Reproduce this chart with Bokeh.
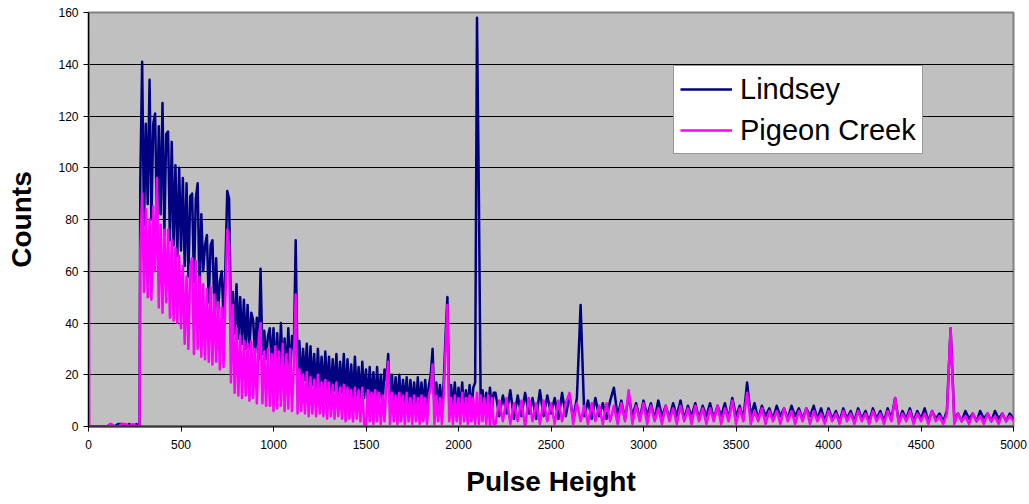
from bokeh.plotting import figure
from bokeh.models import Range1d, FixedTicker
from bokeh.embed import file_html
from bokeh.resources import INLINE

# ---- data (Pulse Height channel vs Counts) ----
# low-channel region (explicit channels)
low_channels = [0, 4, 100, 120, 140, 160, 180, 200, 220, 240, 260, 276]
lindsey_low = [0, 0, 0, 1, 0, 1, 1, 0, 1, 0, 1, 0]
pigeon_low = [165, 0, 0, 1, 0, 0, 1, 1, 0, 1, 0, 0]

# channels 280..990, step 10
seg_a_start, seg_a_step = 280, 10
lindsey_a = [95, 141, 78, 117, 86, 134, 80, 117, 121, 76,
             116, 82, 125, 74, 113, 114, 72, 110, 70, 101,
             66, 100, 68, 96, 62, 94, 58, 89, 90, 56,
             88, 94, 52, 82, 60, 70, 74, 48, 70, 72,
             46, 65, 44, 56, 60, 42, 62, 91, 88, 40,
             52, 36, 55, 34, 50, 32, 49, 30, 47, 30,
             44, 41, 28, 42, 26, 61, 28, 37, 26, 35,
             38, 24]
pigeon_a = [68, 90, 52, 84, 50, 80, 49, 85, 60, 96,
            46, 78, 44, 76, 48, 76, 42, 72, 41, 69,
            40, 66, 38, 62, 32, 58, 30, 62, 65, 28,
            64, 30, 58, 27, 55, 26, 53, 25, 54, 24,
            51, 25, 48, 22, 46, 23, 50, 76, 70, 17,
            47, 13, 38, 12, 35, 11, 33, 12, 32, 10,
            33, 11, 30, 9, 34, 40, 9, 29, 8, 30,
            8, 28]

# channels 1000..2190, step 10
seg_b_start, seg_b_step = 1000, 10
lindsey_b = [38, 20, 36, 18, 40, 22, 34, 19, 38, 20,
             35, 30, 72, 20, 33, 16, 30, 18, 32, 15,
             31, 16, 28, 14, 30, 15, 27, 13, 29, 14,
             27, 12, 26, 14, 28, 12, 25, 13, 28, 11,
             26, 12, 24, 10, 27, 12, 23, 10, 25, 11,
             22, 9, 23, 10, 21, 9, 23, 10, 20, 9,
             22, 18, 28, 9, 20, 8, 19, 9, 20, 8,
             18, 9, 19, 7, 18, 8, 17, 7, 19, 8,
             17, 7, 18, 8, 16, 20, 30, 7, 17, 8,
             16, 7, 17, 35, 50, 8, 16, 7, 17, 6,
             15, 7, 17, 6, 14, 7, 16, 6, 15, 17,
             158, 90, 8, 14, 6, 13, 7, 15, 6, 13]
pigeon_b = [6, 31, 7, 29, 8, 32, 6, 28, 7, 30,
            6, 24, 51, 5, 22, 6, 20, 5, 21, 4,
            19, 5, 18, 4, 20, 5, 17, 4, 18, 3,
            17, 4, 16, 3, 17, 4, 15, 3, 16, 2,
            15, 3, 14, 2, 15, 3, 14, 2, 15, 1,
            0, 14, 2, 13, 1, 14, 2, 13, 1, 12,
            2, 16, 25, 1, 13, 2, 12, 1, 13, 2,
            12, 1, 13, 2, 11, 1, 12, 2, 11, 1,
            12, 2, 11, 1, 12, 15, 24, 1, 12, 2,
            11, 1, 12, 30, 47, 2, 11, 1, 12, 2,
            11, 1, 13, 2, 11, 1, 12, 2, 11, 1,
            13, 1, 12, 2, 11, 1, 12, 0, 11, 1]

# channels 2200..5000, step 20
seg_c_start, seg_c_step = 2200, 20
lindsey_c = [13, 4, 12, 5, 14, 3, 12, 4, 13, 5,
             11, 3, 14, 4, 12, 5, 11, 3, 13, 4,
             12, 3, 11, 47, 4, 10, 3, 11, 4, 9,
             3, 10, 15, 4, 10, 3, 12, 4, 9, 3,
             10, 4, 9, 3, 10, 4, 8, 3, 9, 4,
             10, 3, 8, 4, 9, 3, 8, 4, 9, 3,
             8, 4, 9, 3, 11, 4, 8, 3, 17, 4,
             9, 3, 8, 4, 7, 3, 8, 4, 7, 3,
             8, 4, 7, 3, 7, 4, 8, 3, 7, 2,
             7, 3, 6, 2, 7, 3, 6, 2, 7, 3,
             6, 2, 7, 3, 6, 2, 7, 3, 11, 2,
             6, 3, 7, 2, 6, 3, 7, 2, 6, 3,
             5, 2, 6, 38, 3, 5, 2, 6, 3, 5,
             2, 6, 3, 5, 2, 6, 3, 5, 2, 5,
             3]
pigeon_c = [1, 10, 2, 11, 1, 9, 2, 10, 0, 11,
            2, 9, 1, 10, 2, 9, 1, 10, 2, 9,
            13, 1, 9, 2, 8, 1, 9, 2, 8, 1,
            9, 2, 8, 1, 9, 2, 14, 1, 8, 2,
            9, 1, 8, 2, 7, 1, 8, 2, 7, 1,
            8, 2, 7, 1, 8, 2, 7, 1, 7, 2,
            8, 1, 7, 2, 10, 1, 7, 2, 13, 1,
            6, 2, 7, 1, 6, 2, 6, 1, 7, 2,
            6, 1, 6, 2, 7, 1, 6, 2, 5, 1,
            6, 2, 5, 1, 6, 2, 5, 1, 6, 2,
            5, 1, 6, 2, 5, 1, 6, 2, 11, 1,
            5, 2, 6, 1, 5, 2, 5, 1, 6, 2,
            4, 1, 5, 38, 1, 5, 2, 4, 1, 5,
            2, 4, 1, 5, 2, 4, 1, 5, 2, 4,
            2]

x_ticks = [0, 500, 1000, 1500, 2000, 2500, 3000, 3500, 4000, 4500, 5000]
y_ticks = [0, 20, 40, 60, 80, 100, 120, 140, 160]


def channel_grid(start, step, values):
    return [start + step * i for i in range(len(values))]


lindsey_channels = (low_channels
                    + channel_grid(seg_a_start, seg_a_step, lindsey_a)
                    + channel_grid(seg_b_start, seg_b_step, lindsey_b)
                    + channel_grid(seg_c_start, seg_c_step, lindsey_c))
pigeon_channels = (low_channels
                   + channel_grid(seg_a_start, seg_a_step, pigeon_a)
                   + channel_grid(seg_b_start, seg_b_step, pigeon_b)
                   + channel_grid(seg_c_start, seg_c_step, pigeon_c))
lindsey = lindsey_low + lindsey_a + lindsey_b + lindsey_c
pigeon = pigeon_low + pigeon_a + pigeon_b + pigeon_c

FONT = "Liberation Sans"

p = figure(width=1029, height=504, output_backend="svg", toolbar_location=None,
           x_range=Range1d(0, 5000), y_range=Range1d(0, 160),
           min_border_left=88, min_border_right=16, min_border_top=12,
           min_border_bottom=78)

p.background_fill_color = "#C0C0C0"
p.border_fill_color = "white"
p.outline_line_color = "#808080"
p.outline_line_width = 2

p.line(lindsey_channels, lindsey, line_color="#000080", line_width=2.5,
       line_join="round", legend_label="Lindsey")
p.line(pigeon_channels, pigeon, line_color="#FF00FF", line_width=2.5,
       line_join="round", legend_label="Pigeon Creek")

p.xgrid.visible = False
p.ygrid.grid_line_color = "black"
p.ygrid.grid_line_width = 1
p.ygrid.ticker = FixedTicker(ticks=y_ticks)

p.xaxis.ticker = FixedTicker(ticks=x_ticks)
p.yaxis.ticker = FixedTicker(ticks=y_ticks)

for ax in (p.xaxis[0], p.yaxis[0]):
    ax.axis_line_color = "black"
    ax.axis_line_width = 1
    ax.major_tick_line_color = "black"
    ax.major_tick_out = 5
    ax.major_tick_in = 0
    ax.minor_tick_line_color = None
    ax.major_label_text_font = FONT
    ax.major_label_text_font_size = "12px"
    ax.major_label_text_color = "black"
    ax.axis_label_text_font = FONT
    ax.axis_label_text_font_size = "28px"
    ax.axis_label_text_font_style = "bold"
    ax.axis_label_text_color = "black"

p.xaxis.axis_label = "Pulse Height"
p.yaxis.axis_label = "Counts"
p.xaxis.major_label_standoff = 8
p.xaxis.axis_label_standoff = 14
p.yaxis.major_label_standoff = 5
p.yaxis.axis_label_standoff = 18
p.xaxis.axis_line_width = 2
p.xaxis.axis_line_color = "#333333"

lg = p.legend[0]
lg.location = (585, 272)
lg.label_text_font = FONT
lg.label_text_font_size = "29px"
lg.label_text_color = "black"
lg.glyph_width = 52
lg.glyph_height = 34
lg.label_height = 34
lg.label_standoff = 8
lg.spacing = 7
lg.padding = 6
lg.margin = 0
lg.border_line_color = "#333333"
lg.border_line_width = 1
lg.background_fill_color = "white"
lg.background_fill_alpha = 1

open("out.html", "w").write(file_html(p, INLINE))
